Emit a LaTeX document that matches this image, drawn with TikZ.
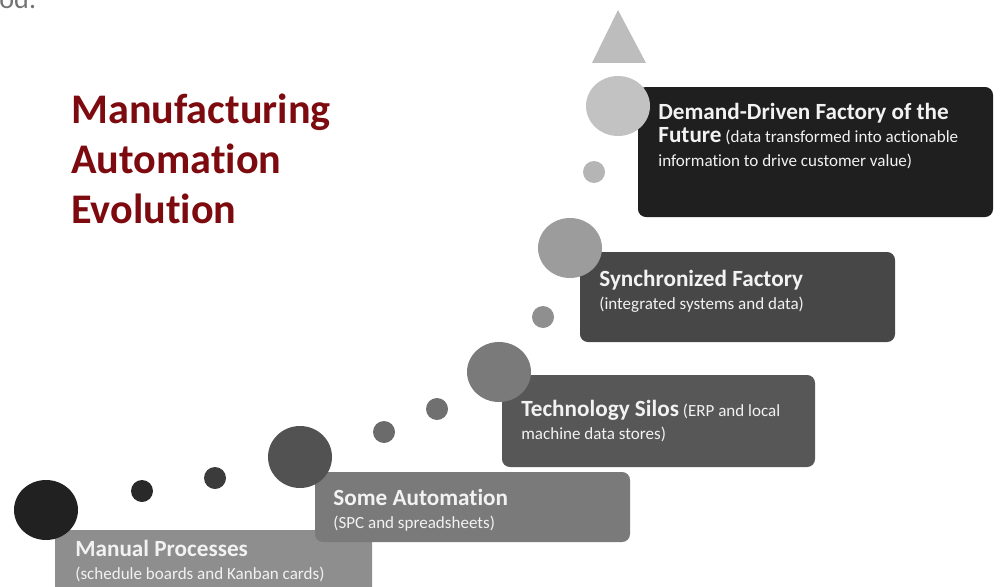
\documentclass[tikz,border=0pt]{standalone}
\usepackage{fontspec}
\setmainfont{Carlito}[Ligatures=NoCommon]
\usepackage{tikz}

\definecolor{titlered}{HTML}{7D0A0E}
\definecolor{stageA}{HTML}{8E8E8E}
\definecolor{stageB}{HTML}{7A7A7A}
\definecolor{stageC}{HTML}{575757}
\definecolor{stageD}{HTML}{474747}
\definecolor{stageE}{HTML}{1F1F1F}

\newcommand{\stagehead}[1]{{\fontsize{13.2}{13.5}\selectfont\bfseries #1}}

\begin{document}
\begin{tikzpicture}[x=0.02cm, y=0.02cm,
    stage/.style = {rounded corners=4.5pt},
    stagetxt/.style = {anchor=north west, inner sep=0pt, text=white!95!black,
                       align=left, font=\fontsize{9.7}{13.3}\selectfont},
    dot/.style = {draw=none}]

      \useasboundingbox (0,0) rectangle (1000,586);

      % cut-off line of text above the picture
      \node[anchor=base west, inner sep=0pt, text=black!55,
            font=\fontsize{16}{18}\selectfont] (cutline) at (-1,577) {od:};

      \node[anchor=north west, inner sep=0pt, text=titlered, align=left,
            font=\fontsize{24}{28.3}\selectfont\bfseries] (title) at (71,492)
            {Manufacturing\\Automation\\Evolution};

      % steps, lowest first
      \fill[stage, stageA] (55,-14) rectangle (372,56);
      \node[stagetxt] (manual) at (75,46)
            {\stagehead{Manual Processes}\\(schedule boards and Kanban cards)};

      \fill[stage, stageB] (315,44) rectangle (630,114);
      \node[stagetxt] (someauto) at (333,97)
            {\stagehead{Some Automation}\\(SPC and spreadsheets)};

      \fill[stage, stageC] (502,119) rectangle (815,211);
      \node[stagetxt] (silos) at (521,186)
            {\stagehead{Technology Silos} (ERP and local\\machine data stores)};

      \fill[stage, stageD] (580,244) rectangle (895,334);
      \node[stagetxt] (sync) at (599,316)
            {\stagehead{Synchronized Factory}\\(integrated systems and data)};

      \fill[stage, stageE] (638,369) rectangle (993,499);
      \node[stagetxt] (future) at (658,483)
            {\stagehead{Demand-Driven Factory of the}\\
             \stagehead{Future} (data transformed into actionable\\
             information to drive customer value)};

      % bubbles climbing up the steps
      \fill[dot, black!87] (46,76) ellipse (32 and 30);
      \fill[dot, black!84] (142,95) circle (11);
      \fill[dot, black!77] (215,108) circle (11);
      \fill[dot, black!68] (300,129) ellipse (32 and 31);
      \fill[dot, black!58] (384,154) circle (11);
      \fill[dot, black!56] (437,177) circle (11);
      \fill[dot, black!52] (499,214) ellipse (32 and 30);
      \fill[dot, black!44] (543,269) circle (11);
      \fill[dot, black!39] (570,338) ellipse (32 and 30);
      \fill[dot, black!29] (594,414) circle (11);
      \fill[dot, black!24] (618,480) ellipse (32 and 30);
      \fill[dot, black!26] (618,576) -- (646,523) -- (592,523) -- cycle;

\end{tikzpicture}
\end{document}
